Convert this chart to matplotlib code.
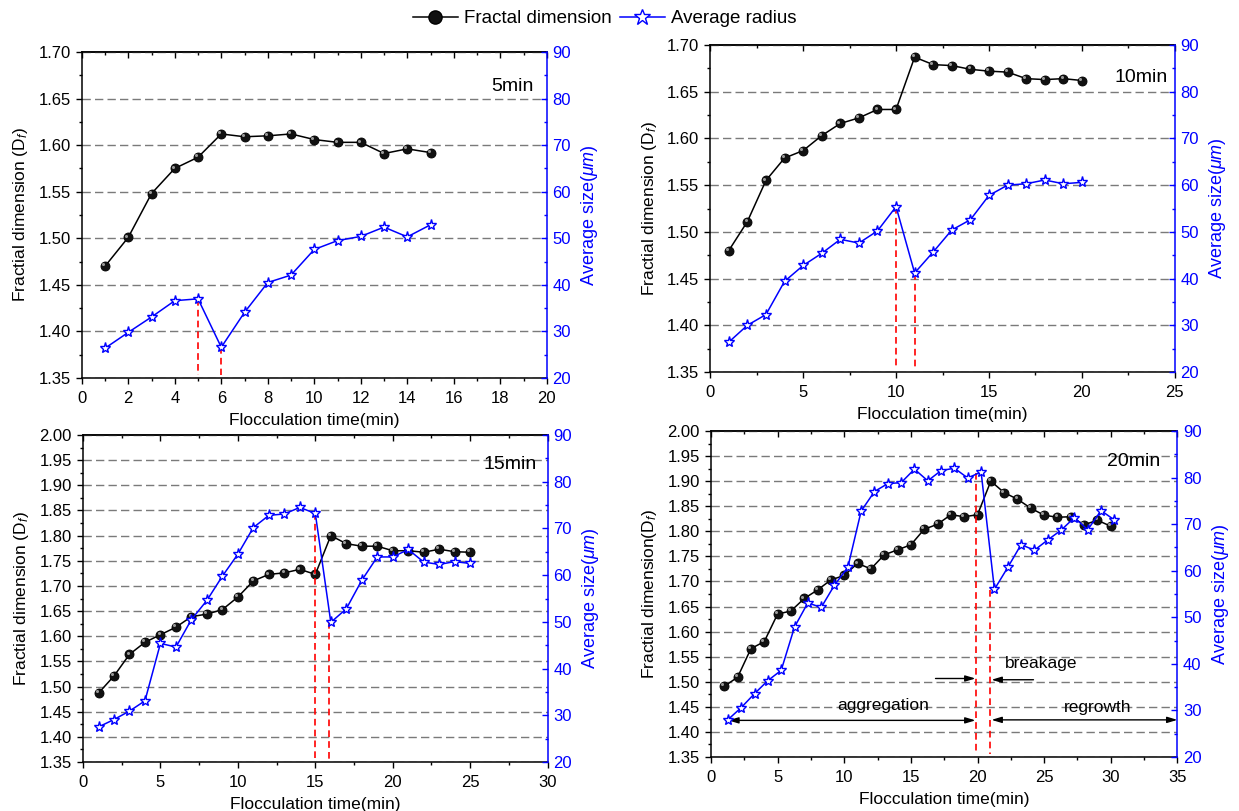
import matplotlib
matplotlib.use('Agg')
import matplotlib.pyplot as plt
from matplotlib.lines import Line2D
from matplotlib.ticker import MultipleLocator, FormatStrFormatter
from matplotlib.transforms import ScaledTranslation

plt.rcParams['font.family'] = ['Liberation Sans', 'DejaVu Sans']
plt.rcParams['mathtext.fontset'] = 'custom'
plt.rcParams['mathtext.rm'] = 'Liberation Sans'
plt.rcParams['mathtext.it'] = 'Liberation Sans:italic'
plt.rcParams['mathtext.bf'] = 'Liberation Sans:bold'

# ---------------- data ----------------
t5 = [1, 2, 3, 4, 5, 6, 7, 8, 9, 10, 11, 12, 13, 14, 15]
fd5 = [1.470, 1.501, 1.548, 1.575, 1.587, 1.612, 1.609, 1.610, 1.612, 1.606,
       1.603, 1.603, 1.591, 1.596, 1.592]
r5 = [26.4, 29.8, 33.1, 36.6, 37.0, 26.6, 34.1, 40.5, 42.1, 47.6,
      49.5, 50.4, 52.4, 50.3, 52.9]
brk5_x = [5, 6]
brk5_top = [37.0, 26.6]

t10 = [1, 2, 3, 4, 5, 6, 7, 8, 9, 10, 11, 12, 13, 14, 15, 16, 17, 18, 19, 20]
fd10 = [1.480, 1.511, 1.555, 1.579, 1.587, 1.603, 1.616, 1.622, 1.631, 1.631,
        1.687, 1.679, 1.678, 1.674, 1.672, 1.671, 1.664, 1.663, 1.664, 1.662]
r10 = [26.4, 30.0, 32.3, 39.4, 42.8, 45.4, 48.4, 47.6, 50.2, 55.4,
       41.2, 45.7, 50.4, 52.6, 57.8, 60.0, 60.3, 61.1, 60.3, 60.6]
brk10_x = [10, 11]
brk10_top = [55.4, 41.2]

t15 = [1, 2, 3, 4, 5, 6, 7, 8, 9, 10, 11, 12, 13, 14, 15, 16, 17, 18, 19, 20,
       21, 22, 23, 24, 25]
fd15 = [1.487, 1.521, 1.564, 1.588, 1.603, 1.618, 1.639, 1.644, 1.653, 1.678,
        1.710, 1.723, 1.726, 1.733, 1.723, 1.800, 1.784, 1.779, 1.779, 1.770,
        1.770, 1.767, 1.773, 1.768, 1.767]
r15 = [27.5, 29.1, 30.9, 33.1, 45.4, 44.6, 50.5, 54.6, 59.8, 64.5,
       70.2, 72.8, 73.1, 74.5, 73.2, 49.9, 52.8, 58.9, 63.9, 63.9,
       65.5, 62.8, 62.3, 62.9, 62.5]
brk15_x = [15, 15.9]
brk15_top = [73.2, 50.0]

t20 = [1, 2, 3, 4, 5, 6, 7, 8, 9, 10, 11, 12, 13, 14, 15, 16, 17, 18, 19, 20,
       21, 22, 23, 24, 25, 26, 27, 28, 29, 30]
fd20 = [1.491, 1.509, 1.566, 1.580, 1.635, 1.641, 1.666, 1.683, 1.703, 1.712,
        1.736, 1.725, 1.753, 1.763, 1.773, 1.804, 1.814, 1.833, 1.829, 1.833,
        1.900, 1.877, 1.864, 1.846, 1.832, 1.828, 1.829, 1.813, 1.822, 1.810]
t20_r = [1.27, 2.27, 3.27, 4.27, 5.27, 6.27, 7.27, 8.27, 9.27, 10.27,
         11.27, 12.27, 13.27, 14.27, 15.27, 16.27, 17.27, 18.27, 19.27, 20.27,
         21.27, 22.27, 23.27, 24.27, 25.27, 26.27, 27.27, 28.27, 29.27, 30.27]
r20 = [28.0, 30.6, 33.6, 36.4, 38.6, 47.9, 53.1, 52.1, 56.9, 60.7,
       72.8, 77.0, 78.7, 78.9, 81.8, 79.3, 81.5, 82.0, 79.9, 81.2,
       56.0, 60.7, 65.6, 64.4, 66.6, 68.7, 71.4, 68.8, 72.9, 70.9]
brk20_x = [19.9, 20.95]
brk20_top = [81.0, 55.9]

legend_labels = ['Fractal dimension', 'Average radius']

# ---------------- figure ----------------
fig = plt.figure(figsize=(12.39, 8.11), dpi=100)
BLUE = '#0000ff'
FS = 12


def panel(rect, tf, fd, tr, r, xmax, xmaj, ymax, brk_x, brk_top, tag, tagpos,
          ylab):
    ax = fig.add_axes(rect)
    ax2 = ax.twinx()
    ax.set_xlim(0, xmax)
    ax.set_ylim(1.35, ymax)
    ax2.set_ylim(20, 90)
    ax.xaxis.set_major_locator(MultipleLocator(xmaj))
    ax.xaxis.set_minor_locator(MultipleLocator(xmaj / 2))
    ax.yaxis.set_major_locator(MultipleLocator(0.05))
    ax.yaxis.set_minor_locator(MultipleLocator(0.025))
    ax.yaxis.set_major_formatter(FormatStrFormatter('%.2f'))
    ax2.yaxis.set_major_locator(MultipleLocator(10))
    ax2.yaxis.set_minor_locator(MultipleLocator(5))

    ax.yaxis.grid(True, which='major', color='#7a7a7a',
                  linestyle=(0, (6, 3)), linewidth=1.0)
    ax.set_axisbelow(True)

    # left / bottom ticks outward, top ticks inward
    ax.tick_params(axis='both', which='both', direction='out', top=False,
                   right=False, labelsize=FS, width=1.0)
    ax.tick_params(axis='both', which='major', length=4)
    ax.tick_params(axis='both', which='minor', length=2.5)
    ax.tick_params(axis='x', pad=5.5)
    ax.tick_params(axis='y', pad=4)
    secx = ax.secondary_xaxis('top')
    secx.xaxis.set_major_locator(MultipleLocator(xmaj))
    secx.xaxis.set_minor_locator(MultipleLocator(xmaj / 2))
    secx.tick_params(axis='x', which='both', direction='in', labeltop=False,
                     width=1.0)
    secx.tick_params(axis='x', which='major', length=4)
    secx.tick_params(axis='x', which='minor', length=2.5)
    secx.spines['top'].set_linewidth(1.1)

    ax2.tick_params(axis='y', which='both', direction='in', colors=BLUE,
                    labelsize=FS, width=1.0, pad=4)
    ax2.tick_params(axis='y', which='major', length=4.5)
    ax2.tick_params(axis='y', which='minor', length=2.5)

    for s in ['left', 'top', 'bottom']:
        ax.spines[s].set_linewidth(1.1)
        ax2.spines[s].set_visible(False)
    ax.spines['right'].set_visible(False)
    ax2.spines['right'].set_color(BLUE)
    ax2.spines['right'].set_linewidth(1.1)

    # fractal dimension (black spheres)
    ax.plot(tf, fd, color='black', lw=1.1, marker='o', markersize=6.5,
            markerfacecolor='#111111', markeredgecolor='black',
            markeredgewidth=0.6, zorder=3)
    hl = ax.transData + ScaledTranslation(-1.3 / 72, 1.3 / 72,
                                          fig.dpi_scale_trans)
    ax.plot(tf, fd, linestyle='none', marker='o', markersize=2.2,
            markerfacecolor='#9a9a9a', markeredgewidth=0, transform=hl,
            zorder=4)

    # average size (blue hollow stars)
    ax2.plot(tr, r, color=BLUE, lw=1.1, marker='*', markersize=8,
             markerfacecolor='white', markeredgecolor=BLUE,
             markeredgewidth=1.0, zorder=3)

    # red dashed markers
    for bx, bt in zip(brk_x, brk_top):
        ax2.plot([bx, bx], [bt, 20.6], color='#ff0000', lw=1.2,
                 linestyle=(0, (4, 2.5)), zorder=2)

    ax.text(tagpos[0], tagpos[1], tag, fontsize=14, ha='right', va='center')
    ax.set_xlabel('Flocculation time(min)', fontsize=FS + 0.5, labelpad=5)
    ax.set_ylabel(ylab, fontsize=FS + 0.5, labelpad=6)
    ax2.set_ylabel(r'Average size($\mu m$)', fontsize=FS + 1, color=BLUE,
                   labelpad=6)
    return ax, ax2


ylab1 = r'Fractial dimension (D$_f$)'
panel([0.0660, 0.5339, 0.3753, 0.4020], t5, fd5, t5, r5, 20, 2, 1.70,
      brk5_x, brk5_top, '5min', (19.45, 1.663), ylab1)
panel([0.5732, 0.5413, 0.3750, 0.4032], t10, fd10, t10, r10, 25, 5, 1.70,
      brk10_x, brk10_top, '10min', (24.6, 1.665), ylab1)
panel([0.0670, 0.0604, 0.3750, 0.4032], t15, fd15, t15, r15, 30, 5, 2.00,
      brk15_x, brk15_top, '15min', (29.3, 1.942), ylab1)
ax4, ax4b = panel([0.5738, 0.0666, 0.3765, 0.4020], t20, fd20, t20_r, r20,
                  35, 5, 2.00, brk20_x, brk20_top, '20min', (33.7, 1.940),
                  r'Fractial dimension(D$_f$)')

# annotations on the 20 min panel
arr = dict(arrowstyle='-|>,head_length=0.6,head_width=0.18', color='black',
           lw=1.0, shrinkA=0, shrinkB=0)
arr2 = dict(arrowstyle='<|-|>,head_length=0.6,head_width=0.18',
            color='black', lw=1.0, shrinkA=0, shrinkB=0)
ax4.annotate('', xy=(19.85, 1.423), xytext=(1.3, 1.423), arrowprops=arr2)
ax4.annotate('', xy=(35.0, 1.424), xytext=(21.05, 1.424), arrowprops=arr2)
ax4.annotate('', xy=(19.85, 1.5065), xytext=(16.85, 1.5065), arrowprops=arr)
ax4.annotate('', xy=(21.05, 1.504), xytext=(24.2, 1.504), arrowprops=arr)
ax4.text(12.9, 1.452, 'aggregation', fontsize=12.5, ha='center', va='center')
ax4.text(29.0, 1.449, 'regrowth', fontsize=12.5, ha='center', va='center')
ax4.text(24.8, 1.537, 'breakage', fontsize=12.5, ha='center', va='center')

# legend
handles = [
    Line2D([], [], color='black', lw=1.1, marker='o', markersize=9.5,
           markerfacecolor='#111111', markeredgecolor='black'),
    Line2D([], [], color=BLUE, lw=1.1, marker='*', markersize=12,
           markerfacecolor='white', markeredgecolor=BLUE,
           markeredgewidth=1.0),
]
fig.legend(handles, legend_labels, loc='center', bbox_to_anchor=(0.488, 0.977),
           ncol=2, frameon=False, fontsize=13.5, handlelength=2.4,
           handletextpad=0.35, columnspacing=0.4)

fig.savefig('out.png', dpi=100)
